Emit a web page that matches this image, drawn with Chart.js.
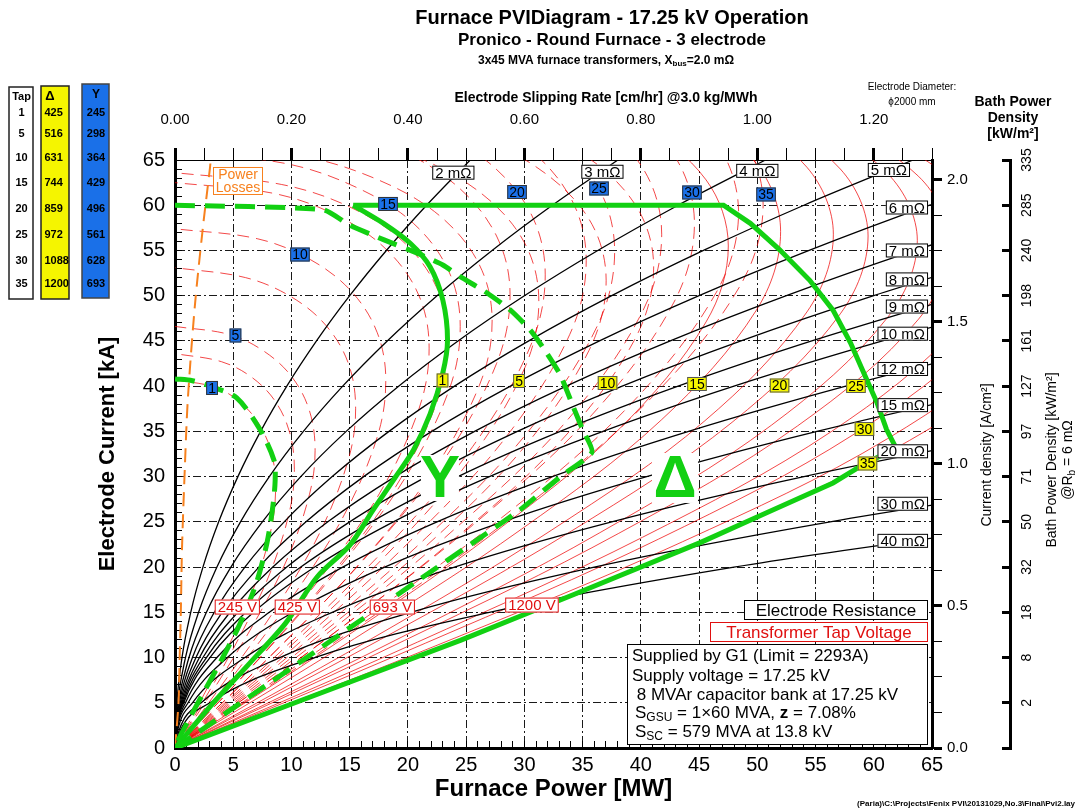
<!DOCTYPE html>
<html>
<head>
<meta charset="utf-8">
<title>Furnace PVI Diagram</title>
<script src="https://cdn.jsdelivr.net/npm/chart.js@4.4.1/dist/chart.umd.min.js"></script>
<style>
  html, body { margin: 0; padding: 0; background: #fff; }
  #wrap { width: 1078px; height: 812px; }
</style>
</head>
<body>
<div id="wrap"><canvas id="pviChart" width="1078" height="812"></canvas></div>
<script>
// ---- data ----

// current levels [kA] used for the electrode resistance curves
const currentLevels = [0, 2, 5, 10, 15, 20, 25, 30, 35, 40, 45, 50, 55, 60, 65];

// electrode resistance [mOhm] and furnace power [MW] at each current level
const resistanceValues = [2, 3, 4, 5, 6, 7, 8, 9, 10, 12, 15, 20, 30, 40];
const resistancePower = [
    [0, 0.024, 0.15, 0.6, 1.35, 2.4, 3.75, 5.4, 7.35, 9.6, 12.15, 15, 18.15, 21.6, 25.35],
    [0, 0.036, 0.225, 0.9, 2.025, 3.6, 5.625, 8.1, 11.025, 14.4, 18.225, 22.5, 27.225, 32.4, 38.025],
    [0, 0.048, 0.3, 1.2, 2.7, 4.8, 7.5, 10.8, 14.7, 19.2, 24.3, 30, 36.3, 43.2, 50.7],
    [0, 0.06, 0.375, 1.5, 3.375, 6, 9.375, 13.5, 18.375, 24, 30.375, 37.5, 45.375, 54, 63.375],
    [0, 0.072, 0.45, 1.8, 4.05, 7.2, 11.25, 16.2, 22.05, 28.8, 36.45, 45, 54.45, 64.8, 76.05],
    [0, 0.084, 0.525, 2.1, 4.725, 8.4, 13.125, 18.9, 25.725, 33.6, 42.525, 52.5, 63.525, 75.6],
    [0, 0.096, 0.6, 2.4, 5.4, 9.6, 15, 21.6, 29.4, 38.4, 48.6, 60, 72.6],
    [0, 0.108, 0.675, 2.7, 6.075, 10.8, 16.875, 24.3, 33.075, 43.2, 54.675, 67.5],
    [0, 0.12, 0.75, 3, 6.75, 12, 18.75, 27, 36.75, 48, 60.75, 75],
    [0, 0.144, 0.9, 3.6, 8.1, 14.4, 22.5, 32.4, 44.1, 57.6, 72.9],
    [0, 0.18, 1.125, 4.5, 10.125, 18, 28.125, 40.5, 55.125, 72],
    [0, 0.24, 1.5, 6, 13.5, 24, 37.5, 54, 73.5],
    [0, 0.36, 2.25, 9, 20.25, 36, 56.25, 81],
    [0, 0.48, 3, 12, 27, 48, 75]
];

// transformer taps and secondary voltages [V] (table)
const tapNumbers = [1, 5, 10, 15, 20, 25, 30, 35];
const deltaVoltage = [425, 516, 631, 744, 859, 972, 1088, 1200];
const starVoltage = [245, 298, 364, 429, 496, 561, 628, 693];

// Y tap voltage curves: current [kA] and power [MW]
const starCurveTaps = [1, 3, 5, 8, 10, 13, 15, 18, 20, 23, 25, 28, 30, 33, 35];
const starCurveCurrent = [
    [0, 6.1, 12.2, 18.3, 24.4, 28.8, 32.6, 35.8, 38.3, 39.9, 40.7],
    [0, 6.5, 13.1, 19.6, 26.2, 30.8, 34.9, 38.4, 41.0, 42.7, 43.6],
    [0, 7.0, 14.0, 21.0, 28.0, 32.9, 37.3, 41.0, 43.8, 45.7, 46.6],
    [0, 8.0, 15.9, 23.9, 31.9, 37.5, 42.5, 46.7, 49.9, 52.0, 53.1],
    [0, 8.6, 17.2, 25.8, 34.4, 40.6, 45.9, 50.5, 54.0, 56.3, 57.4],
    [0, 9.4, 18.8, 28.1, 37.5, 44.2, 50.0, 55.0, 58.8, 61.3, 62.5],
    [0, 9.9, 19.8, 29.7, 39.5, 46.6, 52.7, 58.0, 61.9, 64.6, 65.9],
    [0, 10.6, 21.2, 31.9, 42.5, 50.1, 56.6, 62.3, 66.6, 69.4, 70.8],
    [0, 11.1, 22.2, 33.3, 44.4, 52.3, 59.2, 65.1, 69.6, 72.5, 74.0],
    [0, 11.4, 22.9, 34.3, 45.7, 53.9, 61.0, 67.1, 71.6, 74.7, 76.2],
    [0, 11.7, 23.3, 35.0, 46.6, 54.9, 62.2, 68.4, 73.0, 76.1, 77.7],
    [0, 12.0, 24.1, 36.1, 48.2, 56.8, 64.2, 70.7, 75.5, 78.7, 80.3],
    [0, 12.3, 24.6, 36.9, 49.2, 58.0, 65.6, 72.2, 77.1, 80.4, 82.0],
    [0, 12.6, 25.1, 37.7, 50.3, 59.2, 67.0, 73.7, 78.8, 82.1, 83.8],
    [0, 12.8, 25.5, 38.3, 51.0, 60.1, 68.0, 74.8, 79.9, 83.3, 85.0]
];
const starCurvePower = [
    [0, 2.56, 4.94, 6.94, 8.29, 8.64, 8.29, 7.22, 5.54, 3.37, 0],
    [0, 3.04, 5.87, 8.24, 9.84, 10.25, 9.84, 8.57, 6.57, 4.00, 0],
    [0, 3.57, 6.88, 9.67, 11.54, 12.03, 11.54, 10.05, 7.71, 4.69, 0],
    [0, 4.60, 8.88, 12.47, 14.89, 15.51, 14.89, 12.97, 9.95, 6.05, 0],
    [0, 5.37, 10.36, 14.54, 17.37, 18.10, 17.37, 15.13, 11.61, 7.06, 0],
    [0, 6.47, 12.49, 17.54, 20.95, 21.82, 20.95, 18.24, 14.00, 8.51, 0],
    [0, 7.26, 14.02, 19.68, 23.51, 24.49, 23.51, 20.47, 15.70, 9.55, 0],
    [0, 8.53, 16.46, 23.12, 27.61, 28.77, 27.61, 24.05, 18.45, 11.22, 0],
    [0, 9.43, 18.19, 25.55, 30.51, 31.79, 30.51, 26.57, 20.39, 12.40, 0],
    [0, 10.47, 20.21, 28.38, 33.89, 35.31, 33.89, 29.52, 22.64, 13.77, 0],
    [0, 11.20, 21.61, 30.34, 36.24, 37.75, 36.24, 31.56, 24.21, 14.72, 0],
    [0, 12.40, 23.92, 33.59, 40.12, 41.79, 40.12, 34.94, 26.80, 16.30, 0],
    [0, 13.23, 25.53, 35.85, 42.81, 44.60, 42.81, 37.28, 28.60, 17.39, 0],
    [0, 14.35, 27.70, 38.90, 46.45, 48.39, 46.45, 40.45, 31.04, 18.87, 0],
    [0, 14.98, 28.91, 40.59, 48.48, 50.50, 48.48, 42.22, 32.39, 19.70, 0]
];

// Delta tap voltage curves: voltage [V], current [kA] and power [MW]
const deltaCurveVoltage = [425, 471, 516, 585, 631, 699, 744, 813, 859, 927, 972, 1041, 1088, 1155, 1200];
const deltaCurveCurrent = [
    [0, 9.5, 19.1, 28.6, 38.2, 45.0, 50.9, 56.0, 59.8, 62.3, 63.6],
    [0, 10.0, 20.0, 30.1, 40.1, 47.2, 53.4, 58.8, 62.8, 65.5, 66.8],
    [0, 10.5, 21.0, 31.5, 41.9, 49.4, 55.9, 61.5, 65.7, 68.5, 69.9],
    [0, 11.0, 21.9, 32.9, 43.9, 51.7, 58.5, 64.3, 68.7, 71.6, 73.1],
    [0, 11.3, 22.6, 33.8, 45.1, 53.2, 60.2, 66.2, 70.7, 73.7, 75.2],
    [0, 11.8, 23.6, 35.3, 47.1, 55.5, 62.8, 69.1, 73.8, 76.9, 78.5],
    [0, 12.1, 24.2, 36.3, 48.4, 57.1, 64.6, 71.0, 75.9, 79.1, 80.7],
    [0, 12.0, 24.1, 36.1, 48.2, 56.8, 64.2, 70.7, 75.5, 78.7, 80.3],
    [0, 12.0, 24.0, 36.0, 48.0, 56.6, 64.0, 70.4, 75.2, 78.4, 80.0],
    [0, 11.9, 23.8, 35.7, 47.6, 56.1, 63.5, 69.9, 74.6, 77.8, 79.4],
    [0, 11.9, 23.7, 35.6, 47.4, 55.9, 63.2, 69.5, 74.3, 77.4, 79.0],
    [0, 11.7, 23.3, 35.0, 46.7, 55.0, 62.2, 68.5, 73.1, 76.2, 77.8],
    [0, 11.6, 23.1, 34.7, 46.2, 54.4, 61.6, 67.8, 72.4, 75.5, 77.0],
    [0, 11.4, 22.8, 34.2, 45.7, 53.8, 60.9, 67.0, 71.5, 74.6, 76.1],
    [0, 11.3, 22.7, 34.0, 45.3, 53.4, 60.4, 66.4, 71.0, 74.0, 75.5]
];
const deltaCurvePower = [
    [0, 6.94, 13.40, 18.82, 22.47, 23.41, 22.47, 19.57, 15.02, 9.13, 0],
    [0, 8.07, 15.58, 21.88, 26.14, 27.23, 26.14, 22.76, 17.46, 10.62, 0],
    [0, 9.26, 17.88, 25.11, 29.99, 31.24, 29.99, 26.11, 20.03, 12.18, 0],
    [0, 10.98, 21.19, 29.75, 35.53, 37.02, 35.53, 30.94, 23.74, 14.44, 0],
    [0, 12.19, 23.52, 33.03, 39.45, 41.10, 39.45, 34.36, 26.36, 16.03, 0],
    [0, 14.09, 27.19, 38.18, 45.60, 47.51, 45.60, 39.71, 30.47, 18.53, 0],
    [0, 15.42, 29.76, 41.79, 49.92, 52.00, 49.92, 43.47, 33.35, 20.28, 0],
    [0, 16.77, 32.35, 45.43, 54.26, 56.53, 54.26, 47.25, 36.26, 22.04, 0],
    [0, 17.65, 34.06, 47.83, 57.13, 59.51, 57.13, 49.75, 38.17, 23.21, 0],
    [0, 18.91, 36.48, 51.23, 61.19, 63.74, 61.19, 53.29, 40.88, 24.86, 0],
    [0, 19.72, 38.06, 53.45, 63.84, 66.50, 63.84, 55.59, 42.65, 25.94, 0],
    [0, 20.81, 40.15, 56.38, 67.34, 70.15, 67.34, 58.64, 44.99, 27.36, 0],
    [0, 21.52, 41.53, 58.32, 69.65, 72.55, 69.65, 60.65, 46.53, 28.29, 0],
    [0, 22.58, 43.58, 61.19, 73.08, 76.13, 73.08, 63.64, 48.83, 29.69, 0],
    [0, 23.27, 44.91, 63.07, 75.33, 78.47, 75.33, 65.60, 50.33, 30.60, 0]
];

// operating limits (green)
const star245Power   = [0, 1.5, 3.2, 5.3, 7.3, 8.5, 8.6, 8.4, 7.9, 7.0, 5.6, 4.1, 2.7, 1.3, 0.4, 0];
const star245Current = [40.8, 40.6, 39.9, 38.7, 35.2, 31.8, 29.6, 26.7, 22.7, 18.3, 13.8, 10.0, 6.7, 3.4, 1.2, 0];

const delta425Power   = [0, 3.3, 6.5, 9.5, 12.2, 15.0, 17.0, 18.9, 20.5, 21.9, 23.0, 23.4, 23.0, 21.9, 20.2, 17.9, 15.3];
const delta425Current = [0, 5.0, 9.5, 13.8, 18.9, 22.4, 26.3, 29.9, 33.0, 36.9, 41.5, 45.1, 49.5, 53.2, 55.8, 58.0, 60.0];

const star693Power   = [0, 12.7, 15.0, 17.9, 20.8, 23.0, 24.5, 26.8, 28.8, 30.5, 31.9, 33.1, 34.2, 35.0, 35.8, 33.1, 29.6, 25.6, 21.3, 16.6, 11.3, 5.2, 2.3, 0];
const star693Current = [60.0, 59.5, 57.8, 56.2, 54.7, 53.4, 52.1, 50.3, 48.4, 46.2, 43.7, 41.2, 37.7, 35.2, 32.7, 30.0, 26.3, 22.7, 18.9, 14.7, 10.0, 4.6, 2.0, 0];

const delta1200Power   = [15.3, 47.1, 49.4, 51.9, 54.5, 56.5, 58.0, 59.4, 60.3, 61.1, 61.9, 58.8, 56.5, 50.8, 45.1, 34.3, 24.5, 10.3, 0];
const delta1200Current = [60.0, 60.0, 58.0, 55.1, 51.7, 48.4, 44.8, 40.7, 38.1, 35.2, 33.2, 31.1, 29.3, 26.0, 22.7, 17.0, 11.9, 5.0, 0];

// power losses (orange)
const lossPower   = [0, 0.3, 0.4, 0.5, 0.6, 0.86, 1.1, 1.7, 2.4, 3.0, 3.1];
const lossCurrent = [0, 5, 10, 15, 22, 31.5, 38.5, 48.8, 57.6, 64.1, 65.5];

// bath power density axis (@Rb = 6 mOhm) tick labels at each current level
const bathTickCurrent = [5, 10, 15, 20, 25, 30, 35, 40, 45, 50, 55, 60, 65];
const bathTickLabels = ['2', '8', '18', '32', '50', '71', '97', '127', '161', '198', '240', '285', '335'];

// ---- label anchors (data coordinates MW / kA) ----
const resistanceLabelAt = [
    [23.9, 63.6, 'c'], [36.7, 63.7, 'c'], [50.0, 63.8, 'c'], [61.3, 63.9, 'c'],
    [64.66, 59.75, 'r'], [64.66, 55.0, 'r'], [64.66, 51.8, 'r'], [64.66, 48.8, 'r'],
    [64.66, 45.8, 'r'], [64.66, 41.9, 'r'], [64.66, 37.9, 'r'], [64.66, 32.8, 'r'],
    [64.66, 27.0, 'r'], [64.66, 22.9, 'r']
];
const starLabelAt = [[3.18, 39.8], [5.19, 45.6], [10.73, 54.55], [18.29, 60.14], [29.37, 61.46], [36.41, 61.85], [44.39, 61.41], [50.75, 61.19]];
const deltaLabelAt = [[22.97, 40.63], [29.54, 40.57], [37.14, 40.35], [44.82, 40.24], [51.91, 40.07], [58.47, 40.02], [59.2, 35.26], [59.46, 31.45]];
const voltageLabelAt = [[5.35, 15.58], [10.5, 15.58], [18.66, 15.58], [30.65, 15.8]];

const FONT = "'Liberation Sans', Arial, Helvetica, sans-serif";
const NARROW = "'Liberation Sans Narrow', 'Liberation Sans', Arial, sans-serif";
const GREEN = '#12d012';
const RED = '#e01010';
const TAP_RED = 'rgba(238,0,0,0.8)';
const BLUE = '#1a70e8';
const YELLOW = '#f5f500';
const ORANGE = '#f7811e';

function pairs(power, current) {
    const n = Math.min(power.length, current.length);
    const pts = [];
    for (let i = 0; i < n; i++) pts.push({ x: power[i], y: current[i] });
    return pts;
}

function lineSet(points, o) {
    return {
        data: points,
        borderColor: o.color,
        borderWidth: o.width,
        borderDash: o.dash || [],
        pointRadius: 0,
        fill: false,
        tension: o.tension || 0,
        cubicInterpolationMode: o.monotone ? 'monotone' : 'default',
        order: o.order,
        xAxisID: 'x',
        yAxisID: 'y'
    };
}

function buildDatasets() {
    const sets = [];
    // tap voltage curves
    starCurvePower.forEach((pw, k) => {
        sets.push(lineSet(pairs(pw, starCurveCurrent[k]), { color: TAP_RED, width: 0.9, dash: [12, 7], tension: 0.35, order: 5 }));
    });
    deltaCurvePower.forEach((pw, k) => {
        const solid = deltaCurveVoltage[k] > starVoltage[starVoltage.length - 1];
        sets.push(lineSet(pairs(pw, deltaCurveCurrent[k]), { color: TAP_RED, width: 0.9, dash: solid ? [] : [12, 7], tension: 0.35, order: 5 }));
    });
    // electrode resistance curves
    resistancePower.forEach(pw => {
        sets.push(lineSet(pairs(pw, currentLevels), { color: '#000', width: 1.3, monotone: true, order: 4 }));
    });
    sets.push(lineSet(pairs(lossPower, lossCurrent), { color: ORANGE, width: 2, dash: [14, 8], tension: 0.3, order: 3 }));
    // operating limits
    sets.push(lineSet(pairs(star245Power, star245Current), { color: GREEN, width: 5, dash: [20, 10], tension: 0.3, order: 1 }));
    sets.push(lineSet(pairs(star693Power, star693Current), { color: GREEN, width: 5, dash: [20, 10], tension: 0.2, order: 1 }));
    sets.push(lineSet(pairs(delta425Power, delta425Current), { color: GREEN, width: 5, tension: 0.3, order: 1 }));
    sets.push(lineSet(pairs(delta1200Power, delta1200Current), { color: GREEN, width: 5, order: 1 }));
    return sets;
}

// ---- drawing helpers ----
function boxLabel(ctx, text, x, y, o) {
    ctx.save();
    ctx.font = o.font;
    const tw = ctx.measureText(text).width;
    const w = tw + (o.padX == null ? 3 : o.padX) * 2;
    const h = o.h || 15;
    const left = o.align === 'r' ? x - w : x - w / 2;
    ctx.fillStyle = o.bg || '#fff';
    ctx.fillRect(left, y - h / 2, w, h);
    if (o.border) {
        ctx.lineWidth = o.lw || 1;
        ctx.strokeStyle = o.border;
        ctx.strokeRect(left + 0.5, y - h / 2 + 0.5, w - 1, h - 1);
    }
    ctx.fillStyle = o.color || '#000';
    ctx.textAlign = 'center';
    ctx.textBaseline = 'middle';
    ctx.fillText(text, left + w / 2, y + 1);
    ctx.restore();
}

// text runs with sub/superscripts
function drawRuns(ctx, runs, x, y, align) {
    ctx.save();
    ctx.textBaseline = 'middle';
    ctx.textAlign = 'left';
    let total = 0;
    runs.forEach(r => { ctx.font = (r.bold ? 'bold ' : '') + r.size + 'px ' + (r.family || FONT); r.w = ctx.measureText(r.t).width; total += r.w; });
    let cx = align === 'center' ? x - total / 2 : x;
    runs.forEach(r => {
        ctx.font = (r.bold ? 'bold ' : '') + r.size + 'px ' + (r.family || FONT);
        ctx.fillStyle = r.color || '#000';
        ctx.fillText(r.t, cx, y + (r.dy || 0));
        cx += r.w;
    });
    ctx.restore();
}

function drawHeader(ctx) {
    ctx.save();
    ctx.fillStyle = '#000';
    ctx.textAlign = 'center';
    ctx.textBaseline = 'middle';
    ctx.font = 'bold 20px ' + FONT;
    ctx.fillText('Furnace PVIDiagram - 17.25 kV Operation', 612, 18);
    ctx.font = 'bold 17px ' + FONT;
    ctx.fillText('Pronico - Round Furnace - 3 electrode', 612, 40);
    ctx.restore();
    drawRuns(ctx, [
        { t: '3x45 MVA furnace transformers, X', size: 12, bold: true },
        { t: 'bus', size: 8, bold: true, dy: 3 },
        { t: '=2.0 m\u03A9', size: 12, bold: true }
    ], 606, 61, 'center');

    ctx.save();
    ctx.fillStyle = '#000';
    ctx.textAlign = 'center';
    ctx.textBaseline = 'middle';
    ctx.font = 'bold 14px ' + FONT;
    ctx.fillText('Electrode Slipping Rate [cm/hr] @3.0 kg/MWh', 606, 98);
    ctx.font = '10px ' + FONT;
    ctx.fillText('Electrode Diameter:', 912, 87);
    ctx.fillText('\u03D52000 mm', 912, 102);
    ctx.font = 'bold 14px ' + FONT;
    ctx.fillText('Bath Power', 1013, 102);
    ctx.fillText('Density', 1013, 118);
    ctx.fillText('[kW/m\u00B2]', 1013, 134);
    ctx.font = 'bold 8px ' + NARROW;
    ctx.textAlign = 'right';
    ctx.fillText('(Paria)\\C:\\Projects\\Fenix PVI\\20131029,No.3\\Final\\Pvi2.lay', 1075, 804);
    ctx.restore();
}

function drawTapTable(ctx) {
    const rowY = [113, 134, 158, 183, 209, 235, 261, 284];
    ctx.save();
    ctx.lineWidth = 1.5;
    ctx.fillStyle = '#fff'; ctx.fillRect(9, 87, 24, 212);
    ctx.strokeStyle = '#222'; ctx.strokeRect(9, 87, 24, 212);
    ctx.fillStyle = YELLOW; ctx.fillRect(41, 86, 28, 213);
    ctx.strokeRect(41, 86, 28, 213);
    ctx.fillStyle = BLUE; ctx.fillRect(82, 84, 27, 214);
    ctx.strokeStyle = '#444'; ctx.strokeRect(82, 84, 27, 214);

    ctx.fillStyle = '#000';
    ctx.textBaseline = 'middle';
    ctx.textAlign = 'center';
    ctx.font = 'bold 11px ' + FONT;
    ctx.fillText('Tap', 21.5, 97);
    ctx.font = 'bold 13px ' + FONT;
    ctx.fillText('\u0394', 50, 96);
    ctx.font = 'bold 12px ' + FONT;
    ctx.fillText('Y', 96, 95);
    ctx.font = 'bold 11px ' + FONT;
    tapNumbers.forEach((t, i) => {
        ctx.textAlign = 'center';
        ctx.fillText(String(t), 21.5, rowY[i]);
        ctx.textAlign = 'left';
        ctx.fillText(String(deltaVoltage[i]), 44.5, rowY[i]);
        ctx.textAlign = 'center';
        ctx.fillText(String(starVoltage[i]), 96, rowY[i]);
    });
    ctx.restore();
}

function drawRightAxes(chart) {
    const ctx = chart.ctx;
    const y3 = chart.scales.y3;
    ctx.save();
    ctx.fillStyle = '#000';
    ctx.font = '14px ' + NARROW;
    ctx.textAlign = 'center';
    ctx.textBaseline = 'middle';
    bathTickCurrent.forEach((v, i) => {
        ctx.save();
        ctx.translate(1027, y3.getPixelForValue(v));
        ctx.rotate(-Math.PI / 2);
        ctx.fillText(bathTickLabels[i], 0, 0);
        ctx.restore();
    });
    ctx.save();
    ctx.translate(987, 455);
    ctx.rotate(-Math.PI / 2);
    ctx.font = '14px ' + FONT;
    ctx.fillText('Current density [A/cm\u00B2]', 0, 0);
    ctx.restore();

    ctx.save();
    ctx.translate(1052, 460);
    ctx.rotate(-Math.PI / 2);
    ctx.font = '14px ' + FONT;
    ctx.fillText('Bath Power Density [kW/m\u00B2]', 0, 0);
    ctx.restore();
    ctx.save();
    ctx.translate(1068, 460);
    ctx.rotate(-Math.PI / 2);
    drawRuns(ctx, [
        { t: '@R', size: 14 },
        { t: 'b', size: 10, dy: 4 },
        { t: ' = 6 m\u03A9', size: 14 }
    ], 0, 0, 'center');
    ctx.restore();
    ctx.restore();
}

function drawCurveLabels(chart) {
    const ctx = chart.ctx;
    const xs = chart.scales.x, ys = chart.scales.y;
    const X = v => xs.getPixelForValue(v);
    const Y = v => ys.getPixelForValue(v);

    // power losses
    ctx.save();
    ctx.fillStyle = '#fff';
    const plx = X(5.41), ply = Y(62.68);
    ctx.fillRect(plx - 25, ply - 14, 50, 28);
    ctx.strokeStyle = ORANGE; ctx.lineWidth = 1;
    ctx.strokeRect(plx - 24.5, ply - 13.5, 49, 27);
    ctx.fillStyle = ORANGE; ctx.font = '14px ' + FONT;
    ctx.textAlign = 'center'; ctx.textBaseline = 'middle';
    ctx.fillText('Power', plx, ply - 6);
    ctx.fillText('Losses', plx, ply + 7);
    ctx.restore();

    // Y and Delta region marks
    ctx.save();
    ctx.font = 'bold 60px ' + FONT;
    ctx.textAlign = 'center'; ctx.textBaseline = 'middle';
    const yx = X(22.75), yy = Y(29.85);
    ctx.fillStyle = '#fff'; ctx.fillRect(yx - 19, yy - 23, 38, 46);
    ctx.fillStyle = GREEN; ctx.fillText('Y', yx, yy + 2);
    const dx = X(42.93), dy = Y(29.85);
    ctx.fillStyle = '#fff'; ctx.fillRect(dx - 23, dy - 25, 46, 50);
    ctx.fillStyle = GREEN; ctx.fillText('\u0394', dx, dy + 2);
    ctx.restore();

    // resistance labels
    resistanceValues.forEach((r, i) => {
        const a = resistanceLabelAt[i];
        boxLabel(ctx, r + ' m\u03A9', X(a[0]), Y(a[1]), { font: '15px ' + FONT, border: '#000', h: 14, padX: 3, align: a[2] });
    });

    // tap labels
    tapNumbers.forEach((t, i) => {
        boxLabel(ctx, String(t), X(starLabelAt[i][0]), Y(starLabelAt[i][1]), { font: '14px ' + FONT, bg: BLUE, border: '#333', h: 14, padX: 2 });
        boxLabel(ctx, String(t), X(deltaLabelAt[i][0]), Y(deltaLabelAt[i][1]), { font: '14px ' + FONT, bg: YELLOW, border: '#555', h: 14, padX: 2 });
    });

    // voltage labels of the four limit curves
    const vText = [starVoltage[0], deltaVoltage[0], starVoltage[7], deltaVoltage[7]];
    vText.forEach((v, i) => {
        boxLabel(ctx, v + ' V', X(voltageLabelAt[i][0]), Y(voltageLabelAt[i][1]), { font: '15px ' + FONT, color: RED, border: RED, h: 15, padX: 3 });
    });
}

function drawInfoBox(ctx) {
    ctx.save();
    ctx.fillStyle = '#fff';
    ctx.fillRect(744, 600, 184, 20);
    ctx.strokeStyle = '#000'; ctx.lineWidth = 1;
    ctx.strokeRect(744.5, 600.5, 183, 19);
    ctx.fillRect(710, 622, 218, 20);
    ctx.strokeStyle = RED;
    ctx.strokeRect(710.5, 622.5, 217, 19);
    ctx.fillStyle = '#fff';
    ctx.fillRect(627, 644, 301, 101);
    ctx.strokeStyle = '#000';
    ctx.strokeRect(627.5, 644.5, 300, 100);
    ctx.font = '17px ' + FONT;
    ctx.textBaseline = 'middle';
    ctx.textAlign = 'center';
    ctx.fillStyle = '#000';
    ctx.fillText('Electrode Resistance', 836, 611);
    ctx.fillStyle = RED;
    ctx.fillText('Transformer Tap Voltage', 819, 633);
    ctx.textAlign = 'left';
    ctx.fillStyle = '#000';
    ctx.fillText('Supplied by G1 (Limit = 2293A)', 632, 656);
    ctx.fillText('Supply voltage = 17.25 kV', 632, 676);
    ctx.fillText(' 8 MVAr capacitor bank at 17.25 kV', 632, 695);
    ctx.restore();
    drawRuns(ctx, [
        { t: 'S', size: 17 }, { t: 'GSU', size: 12, dy: 5 },
        { t: ' = 1\u00D760 MVA, ', size: 17 }, { t: 'z', size: 17, bold: true }, { t: ' = 7.08%', size: 17 }
    ], 635, 713, 'left');
    drawRuns(ctx, [
        { t: 'S', size: 17 }, { t: 'SC', size: 12, dy: 5 },
        { t: ' = 579 MVA at 13.8 kV', size: 17 }
    ], 635, 732, 'left');
}

const overlayPlugin = {
    id: 'pviOverlay',
    beforeDraw(chart) {
        const ctx = chart.ctx;
        ctx.save();
        ctx.fillStyle = '#fff';
        ctx.fillRect(0, 0, chart.width, chart.height);
        ctx.restore();
    },
    afterDraw(chart) {
        const ctx = chart.ctx;
        drawHeader(ctx);
        drawTapTable(ctx);
        drawRightAxes(chart);
        drawCurveLabels(chart);
        drawInfoBox(ctx);
    }
};

function isMultiple(v, step) {
    return Math.abs(v / step - Math.round(v / step)) < 1e-6;
}

function innerGrid(step, max) {
    return c => {
        const v = c.tick ? c.tick.value : 0;
        return (isMultiple(v, step) && v > 0 && v < max) ? '#000' : 'rgba(0,0,0,0)';
    };
}

new Chart(document.getElementById('pviChart'), {
    type: 'line',
    data: { datasets: buildDatasets() },
    plugins: [overlayPlugin],
    options: {
        responsive: false,
        animation: false,
        events: [],
        layout: { padding: { top: 88, left: 88, right: 0, bottom: 0 } },
        plugins: { legend: { display: false }, tooltip: { enabled: false }, title: { display: false } },
        scales: {
            x: {
                type: 'linear', position: 'bottom', min: 0, max: 65,
                afterFit: s => { s.height = 64; },
                ticks: {
                    stepSize: 1, autoSkip: false, maxRotation: 0, minRotation: 0,
                    padding: 12, color: '#000', font: { family: FONT, size: 20 },
                    callback: v => (isMultiple(v, 5) ? String(v) : '')
                },
                grid: { color: innerGrid(5, 65), lineWidth: 0.9, tickLength: -7, tickColor: '#000', tickWidth: 1 },
                border: { color: '#000', width: 3, dash: [8, 3, 2, 3] },
                title: { display: true, text: 'Furnace Power [MW]', color: '#000', font: { family: FONT, size: 24, weight: 'bold' }, padding: { top: 0, bottom: 8 } }
            },
            x2: {
                type: 'linear', position: 'top', min: 0, max: 1.3,
                afterFit: s => { s.height = 72; },
                ticks: {
                    stepSize: 0.05, autoSkip: false, maxRotation: 0, minRotation: 0, includeBounds: false,
                    padding: 19, color: '#000', font: { family: FONT, size: 15 },
                    callback: v => (isMultiple(v, 0.2) ? v.toFixed(2) : '')
                },
                grid: {
                    drawOnChartArea: false, tickLength: 12, tickColor: '#000',
                    tickWidth: c => (c.tick && isMultiple(c.tick.value, 0.2) ? 3 : 1)
                },
                border: { color: '#000', width: 1 }
            },
            y: {
                type: 'linear', position: 'left', min: 0, max: 65,
                afterFit: s => { s.width = 87; },
                ticks: {
                    stepSize: 1, autoSkip: false, padding: 17, color: '#000', font: { family: FONT, size: 20 },
                    callback: v => (isMultiple(v, 5) ? String(v) : '')
                },
                grid: { color: innerGrid(5, 65), lineWidth: 0.9, tickLength: -7, tickColor: '#000', tickWidth: 1 },
                border: { color: '#000', width: 3, dash: [8, 3, 2, 3] },
                title: { display: true, text: 'Electrode Current [kA]', color: '#000', font: { family: FONT, size: 22, weight: 'bold' }, padding: { top: 7, bottom: 0 } }
            },
            y2: {
                type: 'linear', position: 'right', min: 0, max: 65 / 31.416,
                afterFit: s => { s.width = 78; },
                ticks: {
                    stepSize: 0.125, autoSkip: false, includeBounds: false, padding: 5, color: '#000',
                    font: { family: FONT, size: 15 },
                    callback: v => (isMultiple(v, 0.5) ? v.toFixed(1) : '')
                },
                grid: {
                    drawOnChartArea: false, tickLength: 10, tickColor: '#000',
                    tickWidth: c => (c.tick && isMultiple(c.tick.value, 0.5) ? 3 : 1)
                },
                border: { color: '#000', width: 3 }
            },
            y3: {
                type: 'linear', position: 'right', min: 0, max: 65,
                afterFit: s => { s.width = 68; },
                ticks: { stepSize: 5, display: false },
                grid: { drawOnChartArea: false, tickLength: -8, tickColor: '#000', tickWidth: 3 },
                border: { color: '#000', width: 3 }
            }
        }
    }
});
</script>
</body>
</html>
